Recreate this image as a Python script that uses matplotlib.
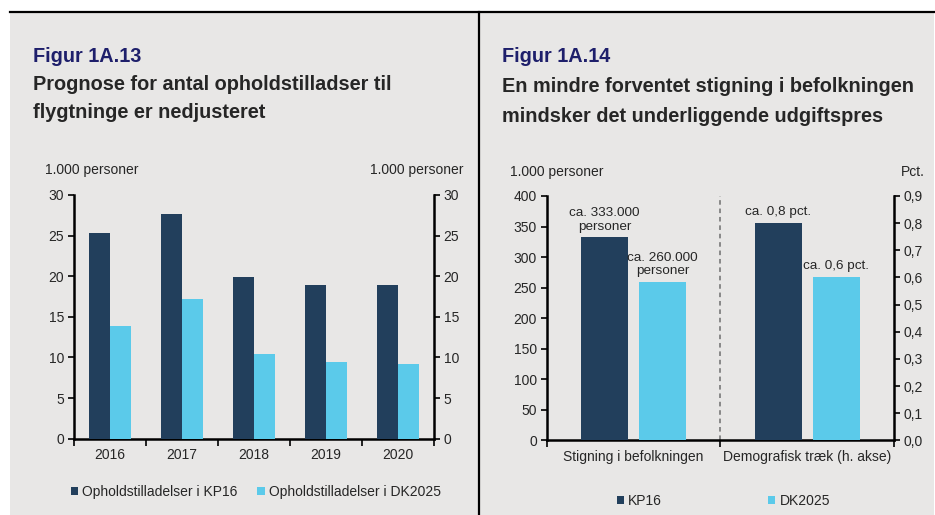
import matplotlib
matplotlib.use("Agg")
import matplotlib.pyplot as plt
from matplotlib.lines import Line2D
from matplotlib.patches import Rectangle

plt.rcParams['font.family'] = ['Liberation Sans', 'DejaVu Sans']

# ---------------- data ----------------
years = ["2016", "2017", "2018", "2019", "2020"]
kp16_permits = [25.3, 27.6, 19.9, 18.9, 18.9]
dk2025_permits = [13.9, 17.2, 10.4, 9.5, 9.2]

right_categories = ["Stigning i befolkningen", "Demografisk træk (h. akse)"]
pop_increase = [333, 260]          # 1.000 personer (left axis)
demographic_pull = [0.8, 0.6]      # pct. (right axis)
pop_labels = ["ca. 333.000\npersoner", "ca. 260.000\npersoner"]
pull_labels = ["ca. 0,8 pct.", "ca. 0,6 pct."]

left_series = ["Opholdstilladelser i KP16", "Opholdstilladelser i DK2025"]
right_series = ["KP16", "DK2025"]

DARK = "#223F5C"
LIGHT = "#5BCAEA"
BG = "#E8E7E6"
NAVY = "#1E1F6B"
TXT = "#262626"

W, H = 935, 515
fig = plt.figure(figsize=(W / 100, H / 100), dpi=100)
fig.patch.set_facecolor("white")


def fx(px):
    return px / W


def fy(py):
    return 1 - py / H


def rect(x0, y0, x1, y1):
    return [fx(x0), fy(y1), fx(x1) - fx(x0), fy(y0) - fy(y1)]


# panel backgrounds and frame lines
fig.patches.append(Rectangle((fx(10), 0), fx(479) - fx(10), fy(12), transform=fig.transFigure,
                             facecolor=BG, edgecolor="none", zorder=-10))
fig.patches.append(Rectangle((fx(479), 0), fx(934) - fx(479), fy(12), transform=fig.transFigure,
                             facecolor=BG, edgecolor="none", zorder=-10))
fig.lines.append(Line2D([fx(10), fx(935)], [fy(12), fy(12)], transform=fig.transFigure,
                        color="black", lw=1.6, zorder=-5))
fig.lines.append(Line2D([fx(479), fx(479)], [fy(12), 0], transform=fig.transFigure,
                        color="black", lw=1.6, zorder=-5))

FS = 10
TITLE_FS = 14.3

# titles
fig.text(fx(33), fy(57), "Figur 1A.13", color=NAVY, fontsize=TITLE_FS, fontweight="bold", va="center")
fig.text(fx(33), fy(85), "Prognose for antal opholdstilladser til", color=TXT, fontsize=TITLE_FS,
         fontweight="bold", va="center")
fig.text(fx(33), fy(113), "flygtninge er nedjusteret", color=TXT, fontsize=TITLE_FS,
         fontweight="bold", va="center")

fig.text(fx(502), fy(57), "Figur 1A.14", color=NAVY, fontsize=TITLE_FS, fontweight="bold", va="center")
fig.text(fx(502), fy(86), "En mindre forventet stigning i befolkningen", color=TXT, fontsize=TITLE_FS,
         fontweight="bold", va="center")
fig.text(fx(502), fy(117), "mindsker det underliggende udgiftspres", color=TXT, fontsize=TITLE_FS,
         fontweight="bold", va="center")


def style_axes(ax, twin):
    for a in (ax, twin):
        a.set_facecolor("none")
        for s in a.spines.values():
            s.set_visible(False)
    ax.spines["left"].set_visible(True)
    ax.spines["bottom"].set_visible(True)
    twin.spines["right"].set_visible(True)
    for s in (ax.spines["left"], ax.spines["bottom"], twin.spines["right"]):
        s.set_linewidth(1.8)
        s.set_color("black")
    ax.tick_params(axis="y", direction="out", length=4, width=1.2, labelsize=FS, colors="black",
                   labelcolor=TXT, pad=3)
    twin.tick_params(axis="y", direction="out", length=4, width=1.2, labelsize=FS, colors="black",
                     labelcolor=TXT, pad=3)
    ax.tick_params(axis="x", which="major", length=0, labelsize=FS, labelcolor=TXT, pad=7)
    ax.tick_params(axis="x", which="minor", length=5, width=1.2, direction="out", color="black")


# ---------------- left chart ----------------
axL = fig.add_axes(rect(74, 195, 434, 438.7))
axL2 = axL.twinx()
xs = list(range(len(years)))
bw = 0.285
axL.bar([x - bw / 2 for x in xs], kp16_permits, width=bw, color=DARK, label=left_series[0], zorder=3)
axL.bar([x + bw / 2 for x in xs], dk2025_permits, width=bw, color=LIGHT, label=left_series[1], zorder=3)
axL.set_xlim(-0.5, len(years) - 0.5)
axL.set_ylim(0, 30)
axL2.set_ylim(0, 30)
axL.set_yticks(range(0, 31, 5))
axL2.set_yticks(range(0, 31, 5))
axL.set_xticks(xs)
axL.set_xticklabels(years)
axL.set_xticks([x - 0.5 for x in range(len(years) + 1)], minor=True)
style_axes(axL, axL2)

fig.text(fx(45), fy(170), "1.000 personer", fontsize=FS, color=TXT, va="center", ha="left")
fig.text(fx(463), fy(170), "1.000 personer", fontsize=FS, color=TXT, va="center", ha="right")

h, l = axL.get_legend_handles_labels()
fig.legend(h, l, loc="center left", bbox_to_anchor=(fx(58), fy(492)), ncol=2, frameon=False,
           fontsize=FS, handlelength=0.55, handleheight=0.55, handletextpad=0.3,
           columnspacing=1.4, labelcolor=TXT)

# ---------------- right chart ----------------
axR = fig.add_axes(rect(546.7, 196, 894, 440.3))
axR2 = axR.twinx()
bw2 = 0.27
off = 0.167
b1 = axR.bar([0 - off], [pop_increase[0]], width=bw2, color=DARK, label=right_series[0], zorder=3)
b2 = axR.bar([0 + off], [pop_increase[1]], width=bw2, color=LIGHT, label=right_series[1], zorder=3)
axR2.bar([1 - off], [demographic_pull[0]], width=bw2, color=DARK, zorder=3)
axR2.bar([1 + off], [demographic_pull[1]], width=bw2, color=LIGHT, zorder=3)
axR.set_xlim(-0.5, 1.5)
axR.set_ylim(0, 400)
axR2.set_ylim(0, 0.9)
axR.set_yticks(range(0, 401, 50))
axR2.set_yticks([i / 10 for i in range(10)])
axR2.set_yticklabels([f"{i / 10:.1f}".replace(".", ",") for i in range(10)])
axR.set_xticks([0, 1])
axR.set_xticklabels(right_categories)
axR.set_xticks([-0.5, 0.5, 1.5], minor=True)
style_axes(axR, axR2)
axR.axvline(0.5, color="#6E6E6E", lw=1.1, ls=(0, (3, 2.5)), zorder=2)

for xv, v, t in zip([-off, off], pop_increase, pop_labels):
    axR.annotate(t, (xv, v), xytext=(0, 3), textcoords="offset points", ha="center", va="bottom",
                 fontsize=9.7, color=TXT, linespacing=1.2)
for xv, v, t in zip([1 - off, 1 + off], demographic_pull, pull_labels):
    axR2.annotate(t, (xv, v), xytext=(0, 4), textcoords="offset points", ha="center", va="bottom",
                  fontsize=9.7, color=TXT)

fig.text(fx(510), fy(172), "1.000 personer", fontsize=FS, color=TXT, va="center", ha="left")
fig.text(fx(925), fy(172), "Pct.", fontsize=FS, color=TXT, va="center", ha="right")

fig.legend([b1, b2], right_series, loc="center left", bbox_to_anchor=(fx(604), fy(501)), ncol=2,
           frameon=False, fontsize=FS, handlelength=0.55, handleheight=0.55, handletextpad=0.3,
           columnspacing=7.6, labelcolor=TXT)

fig.savefig("out.png", dpi=100, facecolor=fig.get_facecolor())
